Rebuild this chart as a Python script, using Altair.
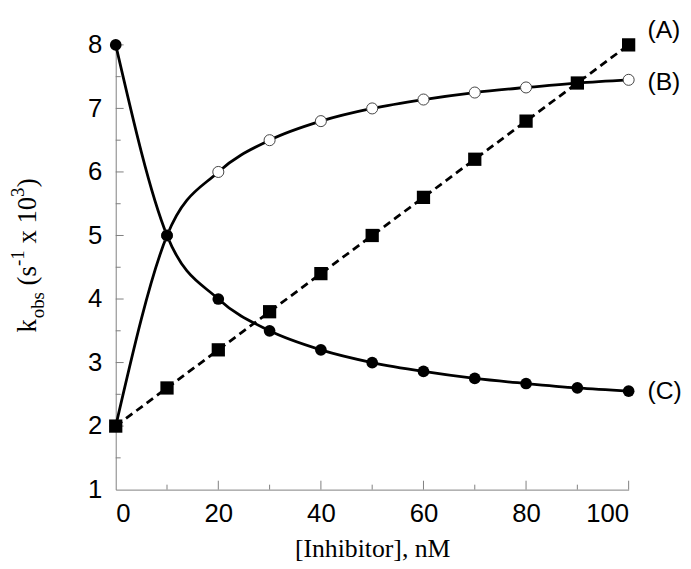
import altair as alt
import pandas as pd

# ---- data ----
x_vals = [0, 10, 20, 30, 40, 50, 60, 70, 80, 90, 100]
series_a = [2.0, 2.6, 3.2, 3.8, 4.4, 5.0, 5.6, 6.2, 6.8, 7.4, 8.0]
series_b = [2.0, 5.0, 6.0, 6.5, 6.8, 7.0, 7.14, 7.25, 7.33, 7.4, 7.45]
series_c = [8.0, 5.0, 4.0, 3.5, 3.2, 3.0, 2.86, 2.75, 2.67, 2.6, 2.55]

x_labels = [0, 20, 40, 60, 80, 100]
y_labels = [1, 2, 3, 4, 5, 6, 7, 8]
x_ticks_major = [20, 40, 60, 80, 100]
x_ticks_minor = [10, 30, 50, 70, 90]
y_ticks_major = [2, 3, 4, 5, 6, 7, 8]
y_ticks_minor = [1.5, 2.5, 3.5, 4.5, 5.5, 6.5, 7.5]

end_labels = ["(A)", "(B)", "(C)"]
end_label_dy = [-15, 2, 0]

x_title = "[Inhibitor], nM"
# y title pieces: text, font size, offset along text, offset across text
y_title_pieces = [
    ("k", 27, 0, 0),
    ("obs", 19, 14.5, 8),
    ("(s", 27, 47.6, 0),
    ("-1", 19, 67.3, -12),
    ("x 10", 27, 90, 0),
    ("3", 19, 137.2, -12),
    (")", 27, 147, 0),
]

W, H = 519, 450
SERIF = "Liberation Serif"
SANS = "Liberation Sans"
AXIS_GREY = "#808080"

df = pd.DataFrame({"x": x_vals, "a": series_a, "b": series_b, "c": series_c})

x_scale = alt.Scale(domain=[0, 100], nice=False, zero=False)
y_scale = alt.Scale(domain=[1, 8], nice=False, zero=False)

x_axis = alt.Axis(
    values=x_labels, grid=False, ticks=False, tickSize=0,
    domainColor=AXIS_GREY, domainWidth=1,
    labelFont=SANS, labelFontSize=26, labelColor="black", labelPadding=11,
    title=x_title, titleFont=SERIF, titleFontSize=26, titleFontWeight="normal",
    titleColor="black", titleY=68, titleBaseline="alphabetic",
)
y_axis = alt.Axis(
    values=y_labels, grid=False, ticks=False, tickSize=0,
    domainColor=AXIS_GREY, domainWidth=1,
    labelFont=SANS, labelFontSize=26, labelColor="black", labelPadding=14,
    title=None,
)


def X(field="x"):
    return alt.X(f"{field}:Q", scale=x_scale, axis=x_axis)


def Y(field):
    return alt.Y(f"{field}:Q", scale=y_scale, axis=y_axis)


base = alt.Chart(df)

line_b = base.mark_line(color="black", strokeWidth=2.8, interpolate="monotone").encode(x=X(), y=Y("b"))
line_c = base.mark_line(color="black", strokeWidth=2.8, interpolate="monotone").encode(x=X(), y=Y("c"))
line_a = base.mark_line(color="black", strokeWidth=2.8, strokeDash=[8, 5]).encode(x=X(), y=Y("a"))

pts_b = base.mark_point(shape="circle", filled=True, fill="white", stroke="#444444",
                        strokeWidth=1, size=125, opacity=1).encode(x=X(), y=Y("b"))
pts_c = base.mark_point(shape="circle", filled=True, color="black", size=140, opacity=1).encode(x=X(), y=Y("c"))
pts_a = base.mark_point(shape="square", filled=True, color="black", size=180, opacity=1).encode(x=X(), y=Y("a"))

# inward ticks
ytm = alt.Chart(pd.DataFrame({"y": y_ticks_major})).mark_rule(color=AXIS_GREY, strokeWidth=1).encode(
    y=Y("y"), x=alt.value(0), x2=alt.value(8))
ytn = alt.Chart(pd.DataFrame({"y": y_ticks_minor})).mark_rule(color=AXIS_GREY, strokeWidth=1).encode(
    y=Y("y"), x=alt.value(0), x2=alt.value(5))
xtm = alt.Chart(pd.DataFrame({"x": x_ticks_major})).mark_rule(color=AXIS_GREY, strokeWidth=1).encode(
    x=X(), y=alt.value(H), y2=alt.value(H - 9))
xtn = alt.Chart(pd.DataFrame({"x": x_ticks_minor})).mark_rule(color=AXIS_GREY, strokeWidth=1).encode(
    x=X(), y=alt.value(H), y2=alt.value(H - 5))

layers = [ytm, ytn, xtm, xtn, line_b, line_c, line_a, pts_b, pts_c, pts_a]

# end labels
last_vals = [series_a[-1], series_b[-1], series_c[-1]]
for lab, yv, dy in zip(end_labels, last_vals, end_label_dy):
    d = pd.DataFrame({"x": [x_vals[-1]], "y": [yv], "t": [lab]})
    layers.append(
        alt.Chart(d).mark_text(align="left", baseline="middle", dx=19, dy=dy,
                               font=SANS, fontSize=25, color="black")
        .encode(x=X(), y=Y("y"), text="t:N")
    )

# y-axis title assembled from pieces (subscript / superscripts)
for txt, fs, along, across in y_title_pieces:
    d = pd.DataFrame({"t": [txt]})
    layers.append(
        alt.Chart(d).mark_text(angle=270, align="left", baseline="alphabetic",
                               dx=along, dy=across, font=SERIF, fontSize=fs,
                               color="black")
        .encode(text="t:N", x=alt.value(-81), y=alt.value(291))
    )

chart = alt.layer(*layers).properties(
    width=W, height=H,
    autosize=alt.AutoSizeParams(type="none"),
    padding={"left": 109, "top": 34, "right": 55, "bottom": 77},
    background="white",
).configure_view(stroke=None)

chart.save("out.html", embed_options={"renderer": "svg", "actions": False})
